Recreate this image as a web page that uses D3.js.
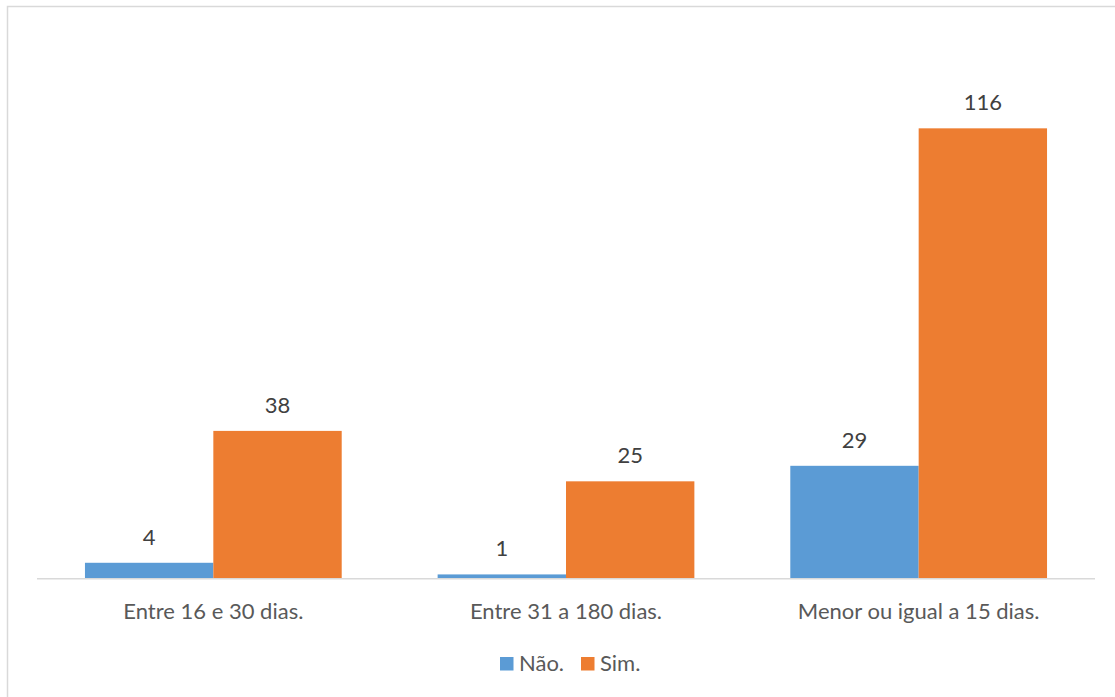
<!DOCTYPE html>
<html>
<head>
<meta charset="utf-8">
<script src="https://cdn.jsdelivr.net/npm/d3@7"></script>
<style>
  html, body { margin: 0; padding: 0; background: #fff; }
  svg { display: block; }
  text { font-family: Lato, "Open Sans", sans-serif; }
</style>
</head>
<body>
<svg id="chart" width="1115" height="697"></svg>
<script>
// Categories and series
const categories = ["Entre 16 e 30 dias.", "Entre 31 a 180 dias.", "Menor ou igual a 15 dias."];
const seriesNames = ["Não.", "Sim."];
const naoValues = [4, 1, 29];
const simValues = [38, 25, 116];
const seriesColors = ["#5B9BD5", "#ED7D31"];

const svg = d3.select("#chart");
const W = 1115, H = 697;
const fontSize = 22;

// Chart area frame
svg.append("rect")
  .attr("x", 7.5).attr("y", 6.5)
  .attr("width", W + 10).attr("height", H + 10)
  .attr("fill", "#fff")
  .attr("stroke", "#d9d9d9")
  .attr("stroke-width", 1.5);

const plot = { left: 37, right: 1095, bottom: 578.3 };
const pxPerUnit = 3.879;
const yMax = 140;

const y = d3.scaleLinear()
  .domain([0, yMax])
  .range([plot.bottom, plot.bottom - yMax * pxPerUnit]);

const x0 = d3.scaleBand()
  .domain(categories)
  .range([plot.left, plot.right])
  .paddingInner(0.272)
  .paddingOuter(0.136);

const x1 = d3.scaleBand()
  .domain(seriesNames)
  .range([0, x0.bandwidth()])
  .padding(0);

const rows = categories.map((c, i) => ({
  category: c,
  values: [
    { series: seriesNames[0], value: naoValues[i], color: seriesColors[0] },
    { series: seriesNames[1], value: simValues[i], color: seriesColors[1] }
  ]
}));

const groups = svg.append("g").selectAll("g")
  .data(rows)
  .join("g")
  .attr("transform", d => `translate(${x0(d.category)},0)`);

groups.selectAll("rect")
  .data(d => d.values)
  .join("rect")
  .attr("x", d => x1(d.series))
  .attr("y", d => y(d.value))
  .attr("width", x1.bandwidth())
  .attr("height", d => y(0) - y(d.value))
  .attr("fill", d => d.color);

// Value labels above each bar
groups.selectAll("text.value")
  .data(d => d.values)
  .join("text")
  .attr("class", "value")
  .attr("x", d => x1(d.series) + x1.bandwidth() / 2)
  .attr("y", d => y(d.value) - 18)
  .attr("text-anchor", "middle")
  .attr("font-size", fontSize)
  .attr("fill", "#404040")
  .text(d => d.value);

// Category axis
const xAxis = svg.append("g")
  .attr("transform", `translate(0,${plot.bottom})`)
  .call(d3.axisBottom(x0).tickSize(0).tickPadding(0));
xAxis.select(".domain")
  .attr("d", `M${plot.left},0.5H${plot.right}`)
  .attr("stroke", "#d9d9d9")
  .attr("stroke-width", 1.5);
xAxis.selectAll(".tick text")
  .attr("y", 40.3)
  .attr("dy", 0)
  .attr("font-size", fontSize)
  .attr("font-family", "Lato, 'Open Sans', sans-serif")
  .attr("fill", "#595959");

// Legend
const legendItems = [
  { name: seriesNames[0], color: seriesColors[0], x: 500 },
  { name: seriesNames[1], color: seriesColors[1], x: 581 }
];
const legend = svg.append("g").selectAll("g")
  .data(legendItems)
  .join("g")
  .attr("transform", d => `translate(${d.x},657)`);
legend.append("rect")
  .attr("width", 13.5).attr("height", 13.5)
  .attr("fill", d => d.color);
legend.append("text")
  .attr("x", 19)
  .attr("y", 13.7)
  .attr("font-size", fontSize)
  .attr("fill", "#595959")
  .text(d => d.name);
</script>
</body>
</html>
